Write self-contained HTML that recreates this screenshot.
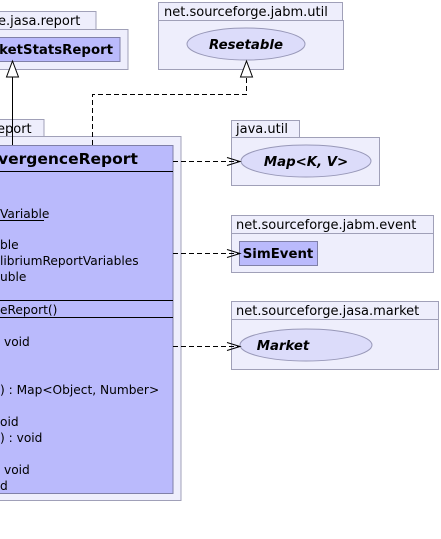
<!DOCTYPE html>
<html><head><style>html,body{margin:0;padding:0;background:#fff;width:441px;height:539px;overflow:hidden}</style></head>
<body>
<svg width="441" height="539" xmlns="http://www.w3.org/2000/svg" font-family="DejaVu Sans, Liberation Sans, sans-serif" font-size="13">
<g stroke="#a0a0b8" stroke-width="1" fill="#eeeefc">
<rect x="-5" y="11.5" width="101" height="18"/>
<rect x="-5" y="29.5" width="133" height="40"/>
<rect x="158.5" y="2.5" width="184" height="18"/>
<rect x="158.5" y="20.5" width="185" height="49"/>
<rect x="-5" y="119.5" width="49" height="17"/>
<rect x="-5" y="136.5" width="186" height="364"/>
<rect x="231.5" y="120.5" width="68" height="17"/>
<rect x="231.5" y="137.5" width="148" height="48"/>
<rect x="231.5" y="215.5" width="202" height="18"/>
<rect x="231.5" y="233.5" width="202" height="39"/>
<rect x="231.5" y="301.5" width="207" height="18"/>
<rect x="231.5" y="319.5" width="207" height="50"/>
</g>
<g fill="#000">
<text x="-2" y="25">e.jasa.report</text>
<text x="164" y="16">net.sourceforge.jabm.util</text>
<text x="-3" y="133">eport</text>
<text x="236" y="133">java.util</text>
<text x="236" y="229">net.sourceforge.jabm.event</text>
<text x="236" y="315">net.sourceforge.jasa.market</text>
</g>
<rect x="-5" y="37.5" width="125" height="24" fill="#babafc" stroke="#8080a8"/>
<text x="113" y="54" font-weight="bold" font-size="13.3" text-anchor="end">rketStatsReport</text>
<ellipse cx="246" cy="44" rx="59" ry="16" fill="#dcdcfa" stroke="#9898b8"/>
<text x="246" y="49" font-weight="bold" font-style="italic" font-size="13.3" text-anchor="middle">Resetable</text>
<ellipse cx="306" cy="161" rx="65" ry="16" fill="#dcdcfa" stroke="#9898b8"/>
<text x="306" y="166" font-weight="bold" font-style="italic" font-size="13.3" text-anchor="middle">Map&lt;K, V&gt;</text>
<rect x="239.5" y="241.5" width="78" height="24" fill="#babafc" stroke="#8080a8"/>
<text x="278" y="258" font-weight="bold" font-size="13.3" text-anchor="middle">SimEvent</text>
<ellipse cx="306" cy="345" rx="66" ry="16" fill="#dcdcfa" stroke="#9898b8"/>
<text x="283" y="350" font-weight="bold" font-style="italic" font-size="13.3" text-anchor="middle">Market</text>
<rect x="-5" y="145.5" width="178" height="348" fill="#babafc" stroke="#8080a8"/>
<g stroke="#000"><line x1="-5" y1="171.5" x2="173" y2="171.5"/><line x1="-5" y1="300.5" x2="173" y2="300.5"/><line x1="-5" y1="317.5" x2="173" y2="317.5"/></g>
<text x="-2" y="164" font-weight="bold" font-size="15.5">vergenceReport</text>
<g font-size="12.2">
<text x="0" y="218">Variable</text>
<text x="0" y="249">ble</text>
<text x="0" y="265">libriumReportVariables</text>
<text x="0" y="281">uble</text>
<text x="0" y="314">eReport()</text>
<text x="4" y="346">void</text>
<text x="0" y="394">) : Map&lt;Object, Number&gt;</text>
<text x="0" y="426">oid</text>
<text x="0" y="442">) : void</text>
<text x="4" y="474">void</text>
<text x="0" y="490">d</text>
</g>
<line x1="0" y1="220.5" x2="44" y2="220.5" stroke="#000"/>
<g fill="none" stroke="#000">
<line x1="12.5" y1="77" x2="12.5" y2="145"/>
<polygon points="12.5,61 6.5,77 18.5,77" fill="#fff"/>
<path d="M92.5 145 V94.5 H246.5 V77" stroke-dasharray="5,3"/>
<polygon points="246.5,61 240.5,77 252.5,77" fill="#fff"/>
<line x1="173" y1="161.5" x2="239" y2="161.5" stroke-dasharray="5,3"/>
<path d="M227 157.5 L240 161.5 L227 165.5"/>
<line x1="173" y1="253.5" x2="239" y2="253.5" stroke-dasharray="5,3"/>
<path d="M227 249.5 L240 253.5 L227 257.5"/>
<line x1="173" y1="346.5" x2="239" y2="346.5" stroke-dasharray="5,3"/>
<path d="M227 342.5 L240 346.5 L227 350.5"/>
</g>
</svg>
</body></html>
